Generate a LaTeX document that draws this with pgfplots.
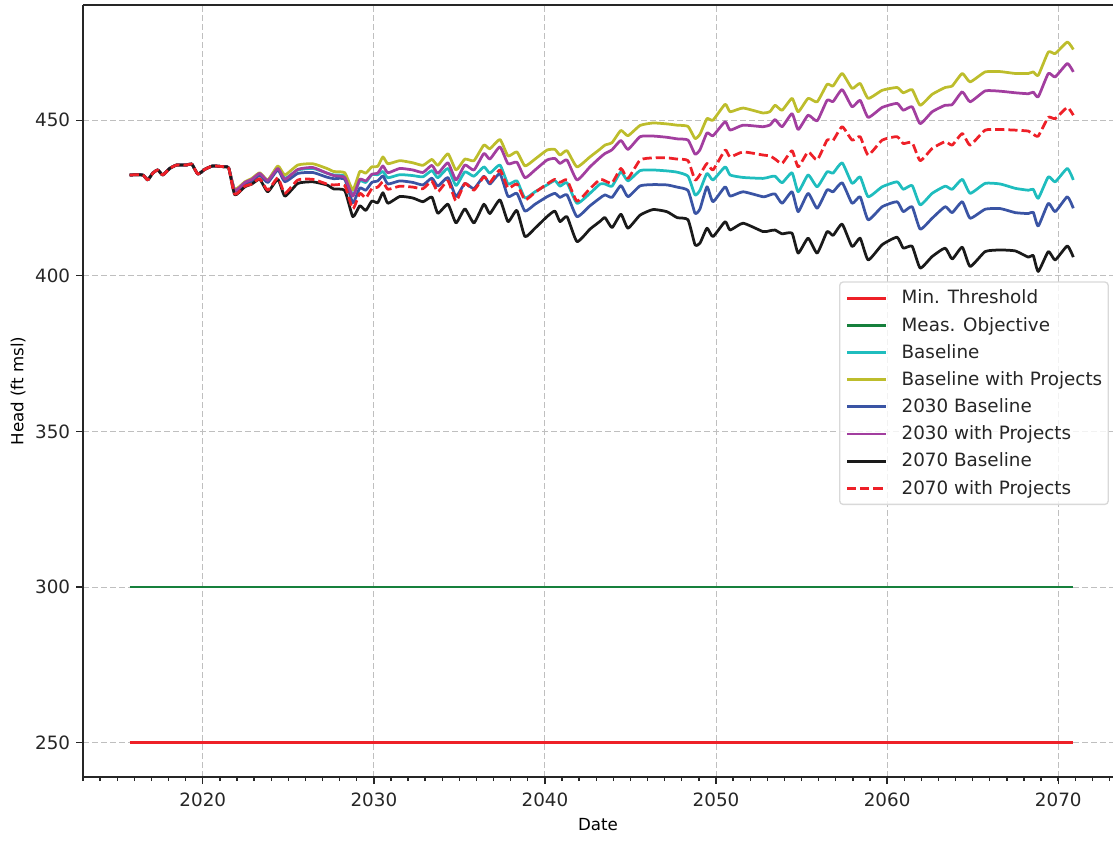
\documentclass[border=0pt]{standalone}
\usepackage{fontspec}
\setmainfont{DejaVu Sans}
\usepackage{pgfplots}
\usepackage{pgfplotstable}
\pgfplotsset{compat=1.18}

\definecolor{cMin}{HTML}{EE2028}
\definecolor{cMeas}{HTML}{16803C}
\definecolor{cBase}{HTML}{1FBDBE}
\definecolor{cBaseP}{HTML}{BDBD2C}
\definecolor{cBth}{HTML}{3A54A4}
\definecolor{cPth}{HTML}{A23E9F}
\definecolor{cBse}{HTML}{1A1A1A}
\definecolor{cPse}{HTML}{EE2028}
\definecolor{txt}{HTML}{262626}

% head (ft msl) per scenario
\pgfplotstableread{
yr      base  basep b30   p30   b70   p70
2015.73 432.4 432.4 432.4 432.4 432.4 432.4
2016.49 432.4 432.4 432.4 432.4 432.4 432.4
2016.78 430.8 430.8 430.8 430.8 430.8 430.8
2017.08 433.0 433.0 433.0 433.0 433.0 433.0
2017.37 434.0 434.0 434.0 434.0 434.0 434.0
2017.66 432.4 432.4 432.4 432.4 432.4 432.4
2018.07 434.5 434.5 434.5 434.5 434.5 434.5
2018.48 435.6 435.6 435.6 435.6 435.6 435.6
2019.06 435.6 435.6 435.6 435.6 435.6 435.6
2019.36 435.9 435.9 435.9 435.9 435.9 435.9
2019.71 432.7 432.7 432.7 432.7 432.7 432.7
2020.12 434.2 434.2 434.2 434.2 434.2 434.2
2020.58 435.3 435.3 435.3 435.3 435.3 435.3
2021.29 435.0 435.0 435.0 435.0 435.0 435.0
2021.52 434.6 434.6 434.6 434.6 434.6 434.6
2021.87 427.6 427.8 427.2 427.4 426.0 426.2
2022.46 430.0 430.2 429.6 430.0 428.6 428.8
2022.87 431.0 431.3 430.5 431.0 429.5 429.5
2023.33 432.8 433.1 432.3 432.9 431.0 431.2
2023.80 430.6 430.8 430.0 430.6 427.0 427.5
2024.39 435.0 435.3 434.0 434.5 431.0 431.5
2024.80 431.3 432.4 430.2 431.0 425.6 426.5
2025.56 434.0 435.6 432.9 434.2 429.7 430.8
2026.43 434.5 436.0 433.2 434.8 430.2 431.0
2027.25 433.0 434.5 431.7 433.0 429.2 429.5
2027.66 432.4 433.5 431.2 432.2 427.9 429.2
2028.30 432.0 433.1 431.0 431.6 427.4 429.0
2028.77 426.0 427.6 423.5 425.6 419.0 421.5
2029.18 430.5 433.5 428.2 431.0 422.5 426.5
2029.53 430.0 433.0 427.5 430.5 421.0 425.0
2029.88 432.5 435.0 430.0 432.6 424.0 428.0
2030.23 432.5 435.2 430.5 433.0 423.5 428.5
2030.53 433.5 438.2 432.1 435.3 426.7 430.2
2030.82 431.5 436.0 429.5 433.1 423.3 427.8
2031.52 432.5 437.0 430.5 434.5 425.5 428.8
2032.28 432.2 436.3 430.0 434.0 425.0 428.5
2032.87 431.8 435.5 429.2 433.2 423.8 428.0
2033.39 433.8 437.4 431.4 435.5 425.3 430.4
2033.74 431.5 435.5 428.8 432.9 420.1 427.0
2034.33 434.5 439.2 431.6 436.3 423.0 430.5
2034.80 429.0 434.0 425.5 430.8 417.0 424.0
2035.32 433.4 437.5 429.7 435.6 421.5 429.7
2035.85 432.0 437.0 428.0 434.0 417.0 427.5
2036.43 435.0 442.0 432.0 439.3 423.0 431.8
2036.78 433.0 440.8 429.5 437.5 420.0 430.0
2037.37 435.6 443.8 432.8 441.4 424.4 434.0
2037.84 429.5 438.5 425.5 436.0 417.4 428.2
2038.36 430.5 439.8 426.5 436.5 421.0 429.5
2038.83 425.0 435.3 420.8 431.5 412.6 424.4
2039.42 427.0 437.5 423.0 434.0 415.3 426.8
2040.12 429.2 440.4 425.4 437.2 419.0 429.5
2040.58 430.6 440.6 426.5 437.7 420.8 431.0
2040.88 428.8 438.8 425.2 436.1 417.4 430.0
2041.29 429.9 440.2 426.0 437.2 419.0 430.8
2041.87 423.3 435.0 419.0 430.8 411.0 424.0
2042.63 426.5 438.2 422.5 435.0 415.0 428.0
2043.22 429.5 440.7 425.0 438.0 417.5 431.0
2043.51 429.5 442.0 426.0 439.3 418.7 430.5
2043.92 428.8 442.8 425.2 440.5 415.5 429.8
2044.44 433.4 446.7 429.0 443.5 419.8 434.5
2044.85 430.5 445.0 425.4 440.6 415.3 431.3
2045.56 433.8 448.3 428.9 444.7 419.5 437.2
2046.32 434.0 449.1 429.3 444.9 421.3 437.9
2047.13 433.7 448.8 429.2 444.5 420.6 437.9
2047.72 433.3 448.4 428.5 444.0 418.7 437.5
2048.36 432.0 448.0 427.4 443.6 418.0 437.0
2048.77 426.0 444.1 420.1 439.1 410.0 430.8
2049.06 427.5 445.5 421.5 440.5 410.5 432.5
2049.47 432.9 450.5 428.6 445.9 415.3 436.1
2049.82 430.8 450.0 423.8 445.0 412.6 434.0
2050.53 435.0 455.1 428.6 449.5 417.4 440.4
2050.82 432.4 452.7 425.6 446.8 414.7 438.2
2051.58 431.6 453.9 427.0 448.4 416.9 439.8
2052.75 431.3 452.3 425.4 447.9 414.2 438.8
2053.16 431.8 452.8 426.0 448.5 414.5 438.5
2053.45 432.0 454.8 426.3 450.2 414.7 437.5
2053.86 429.9 453.2 423.3 447.9 413.5 436.1
2054.44 433.1 457.0 427.0 452.1 413.7 440.2
2054.80 427.0 452.7 420.6 447.0 407.3 435.0
2055.38 432.4 457.0 426.5 451.6 412.1 439.8
2055.91 428.6 455.9 421.7 449.8 407.3 437.2
2056.49 433.4 461.5 427.6 456.4 414.2 443.6
2056.84 433.0 461.0 427.0 456.0 413.0 443.5
2057.37 436.3 465.0 429.9 459.8 416.6 447.9
2057.95 429.7 460.2 423.3 454.3 409.4 443.6
2058.42 431.8 461.8 425.4 456.4 412.1 444.7
2058.89 425.4 457.0 418.0 450.9 405.1 438.8
2059.71 428.6 459.6 422.2 454.1 410.0 443.6
2060.58 430.2 460.5 423.8 455.4 412.4 444.7
2060.94 427.8 458.8 420.6 453.2 408.9 442.5
2061.46 429.0 459.8 422.2 454.3 409.5 442.8
2061.93 422.8 454.8 415.0 448.9 402.5 437.0
2062.63 426.5 458.3 418.5 452.7 406.2 440.9
2063.39 428.8 460.5 422.2 454.8 408.9 443.1
2063.80 427.8 461.0 420.3 455.0 405.4 442.0
2064.39 431.0 465.0 423.8 459.1 409.2 445.7
2064.85 426.5 462.3 418.5 455.9 403.0 442.0
2065.73 429.7 465.5 421.4 459.4 407.8 446.8
2066.61 429.5 465.6 421.6 459.3 408.3 447.0
2067.49 428.1 465.0 420.3 458.8 408.0 446.8
2068.25 427.5 465.0 420.0 458.5 406.0 446.5
2068.54 427.8 465.5 420.4 459.0 406.5 445.5
2068.83 424.9 464.4 416.0 457.5 401.4 444.9
2069.42 431.8 471.9 423.3 465.0 407.8 450.9
2069.82 430.2 471.4 420.6 463.9 405.1 450.5
2070.53 434.5 475.1 425.4 468.2 409.6 454.1
2070.88 430.8 472.7 421.7 465.5 406.0 451.6
}\heads

\begin{document}
\begin{tikzpicture}
\begin{axis}[
  scale only axis,
  width=618pt, height=463.2pt,
  xmin=2013, xmax=2073.2,
  ymin=239, ymax=487,
  xtick={2020,2030,...,2070},
  minor xtick={2013,2014,...,2073},
  ytick={250,300,...,450},
  axis x line*=bottom, axis y line*=left,
  axis line style={-, line width=0.9pt, draw=txt},
  tick align=outside,
  major tick length=4.2pt, minor tick length=2.4pt,
  every tick/.style={draw=txt, line width=0.8pt},
  xmajorgrids, ymajorgrids,
  grid style={gray!50, line width=0.6pt, dash pattern=on 3.6pt off 1.8pt},
  /pgf/number format/assume math mode=true,
  /pgf/number format/1000 sep={},
  tick label style={font=\fontsize{11}{13}\selectfont, text=txt},
  xticklabel style={yshift=-1.5pt},
  label style={font=\fontsize{11}{13}\selectfont, text=txt},
  xlabel={Date}, ylabel={Head (ft msl)},
  every axis x label/.style={at={(axis description cs:0.5,-0.062)}, anchor=center},
  every axis y label/.style={at={(axis description cs:-0.063,0.5)}, anchor=center, rotate=90},
  every axis plot/.append style={line width=1.65pt, line join=round},
  legend cell align=left,
  legend image code/.code={\draw[#1] (0pt,0pt) -- (23.5pt,0pt);},
  legend style={at={(0.996,0.642)}, anchor=north east,
    draw=black!15, line width=0.8pt, rounded corners=2pt,
    fill=white, fill opacity=0.8, text opacity=1,
    font=\fontsize{11}{13}\selectfont, text=txt,
    inner xsep=3.6pt, inner ysep=1.5pt,
    column sep=8.4pt, row sep=0pt,
    nodes={inner sep=0pt, minimum height=16.3pt}},
]
\addplot[cMin] coordinates {(2015.73,250) (2070.88,250)};
\addplot[cMeas] coordinates {(2015.73,300) (2070.88,300)};
\addplot[cBase, smooth, tension=0.3] table[x=yr, y=base] {\heads};
\addplot[cBaseP, smooth, tension=0.3] table[x=yr, y=basep] {\heads};
\addplot[cBth, smooth, tension=0.3] table[x=yr, y=b30] {\heads};
\addplot[cPth, smooth, tension=0.3] table[x=yr, y=p30] {\heads};
\addplot[cBse, smooth, tension=0.3] table[x=yr, y=b70] {\heads};
\addplot[cPse, smooth, tension=0.3, dash pattern=on 5.5pt off 2.4pt] table[x=yr, y=p70] {\heads};
\draw[txt, line width=0.9pt] (rel axis cs:0,1) -- (rel axis cs:1,1);
\legend{Min. Threshold, Meas. Objective, Baseline, Baseline with Projects,
  2030 Baseline, 2030 with Projects, 2070 Baseline, 2070 with Projects}
\end{axis}
\pgfresetboundingbox
\path ([xshift=-49.8pt, yshift=-37.8pt]current axis.south west)
  rectangle ([xshift=1.2pt, yshift=3pt]current axis.north east);
\end{tikzpicture}
\end{document}
